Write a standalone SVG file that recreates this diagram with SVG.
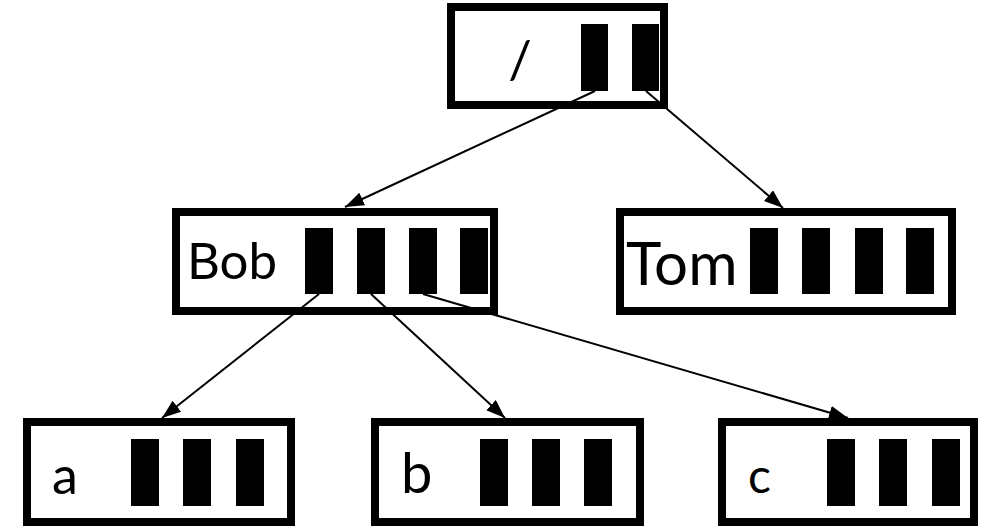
<svg xmlns="http://www.w3.org/2000/svg" width="986" height="527" viewBox="0 0 986 527">
  <style>
    .box { fill: #fff; stroke: #000; stroke-width: 8; }
    .bar { fill: #000; }
    .lbl { font-family: Lato, "Open Sans", sans-serif; fill: #000; }
    .edge { stroke: #000; stroke-width: 2; fill: none; marker-end: url(#arrow); }
  </style>
  <defs>
    <marker id="arrow" markerUnits="userSpaceOnUse" markerWidth="20" markerHeight="16" refX="19" refY="7" orient="auto">
      <path d="M0,0 L19,7 L0,14 z" fill="#000"/>
    </marker>
  </defs>

  <rect width="986" height="527" fill="#fff"/>

  <!-- directory nodes -->
  <g id="root">
    <rect class="box" x="451" y="7" width="213" height="98"/>
    <text class="lbl" x="520" y="78" font-size="52" text-anchor="middle">/</text>
    <rect class="bar" x="581" y="24" width="27" height="67"/>
    <rect class="bar" x="632" y="24" width="27" height="67"/>
  </g>

  <g id="bob">
    <rect class="box" x="176" y="212" width="318" height="99"/>
    <text class="lbl" x="187" y="279" font-size="51">Bob</text>
    <rect class="bar" x="305" y="228" width="28" height="66"/>
    <rect class="bar" x="357" y="228" width="28" height="66"/>
    <rect class="bar" x="409" y="228" width="28" height="66"/>
    <rect class="bar" x="460" y="228" width="28" height="66"/>
  </g>

  <g id="tom">
    <rect class="box" x="620" y="212" width="332" height="99"/>
    <text class="lbl" x="626" y="285" font-size="60">Tom</text>
    <rect class="bar" x="750" y="228" width="28" height="66"/>
    <rect class="bar" x="802" y="228" width="28" height="66"/>
    <rect class="bar" x="855" y="228" width="28" height="66"/>
    <rect class="bar" x="906" y="228" width="28" height="66"/>
  </g>

  <g id="a">
    <rect class="box" x="27" y="422" width="264" height="100"/>
    <text class="lbl" x="52" y="494" font-size="52">a</text>
    <rect class="bar" x="131" y="439" width="28" height="67"/>
    <rect class="bar" x="183" y="439" width="28" height="67"/>
    <rect class="bar" x="236" y="439" width="28" height="67"/>
  </g>

  <g id="b">
    <rect class="box" x="375" y="422" width="265" height="100"/>
    <text class="lbl" x="401" y="493" font-size="56">b</text>
    <rect class="bar" x="480" y="439" width="28" height="67"/>
    <rect class="bar" x="532" y="439" width="28" height="67"/>
    <rect class="bar" x="584" y="439" width="28" height="67"/>
  </g>

  <g id="c">
    <rect class="box" x="722" y="422" width="252" height="100"/>
    <text class="lbl" x="748" y="493" font-size="48">c</text>
    <rect class="bar" x="827" y="439" width="28" height="67"/>
    <rect class="bar" x="879" y="439" width="28" height="67"/>
    <rect class="bar" x="932" y="439" width="28" height="67"/>
  </g>

  <!-- pointers from entry slots to child directories -->
  <g id="edges">
    <line class="edge" x1="595" y1="91" x2="345" y2="207"/>
    <line class="edge" x1="646" y1="91" x2="783" y2="208"/>
    <line class="edge" x1="319" y1="294" x2="162" y2="418"/>
    <line class="edge" x1="371" y1="294" x2="505" y2="418"/>
    <line class="edge" x1="423" y1="294" x2="848" y2="418"/>
  </g>
</svg>
